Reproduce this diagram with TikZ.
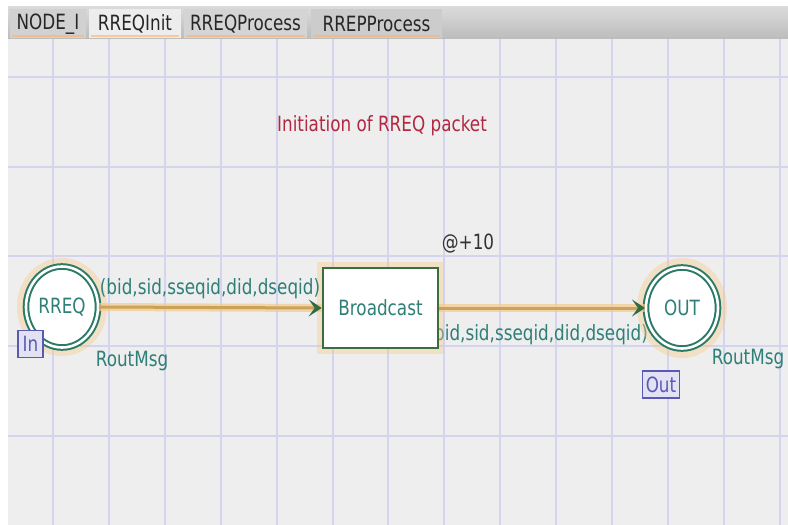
\documentclass[tikz,border=0pt]{standalone}
\usepackage{fontspec}
\setmainfont[FakeStretch=0.8]{DejaVu Sans}
\usetikzlibrary{arrows.meta,shapes.geometric}
\definecolor{bgc}{HTML}{EEEEEE}
\definecolor{gridc}{HTML}{D4D4EE}
\definecolor{tealtxt}{HTML}{2E7F78}
\definecolor{placeg}{HTML}{2A7A66}
\definecolor{transg}{HTML}{3B6E3E}
\definecolor{glowc}{HTML}{F6C98A}
\definecolor{arcc}{HTML}{C9A35C}
\definecolor{tipc}{HTML}{2F6B45}
\definecolor{titlec}{HTML}{B02842}
\definecolor{portc}{HTML}{5A5AB4}
\definecolor{portfill}{HTML}{E2E2F4}
\tikzset{
  txt/.style={font=\fontsize{21}{25}\selectfont, inner sep=0pt},
  lbl/.style={txt, text=tealtxt},
  place/.style={ellipse, draw=placeg, line width=2pt, double=white, double distance=2.6pt,
                fill=white, minimum width=72pt, minimum height=81pt, txt, text=tealtxt},
  trans/.style={rectangle, draw=transg, line width=2.6pt, fill=white,
                minimum width=115pt, minimum height=80pt, txt, text=tealtxt},
  glowline/.style={draw=glowc, line width=10pt, opacity=0.4},
  arcglow/.style={draw=glowc, line width=8pt, opacity=0.7},
  arcline/.style={draw=arcc, line width=3pt, -{Stealth[length=13pt,width=17pt,inset=6pt,color=tipc]}},
  port/.style={rectangle, draw=portc, line width=1.5pt, fill=portfill, txt, text=portc,
               minimum width=25pt, minimum height=27pt},
  tab/.style={txt, text=black!85},
  gridline/.style={draw=gridc, line width=1.6pt}
}
\begin{document}
\begin{tikzpicture}[x=1pt,y=-1pt]
\useasboundingbox (0,0) rectangle (788,525);
\fill[white] (0,0) rectangle (788,525);
\fill[bgc] (8,38) rectangle (788,525);
% grid
\foreach \gx in {53,109,165,221,277,333,388,444,500,556,612,668,724,780}
  \draw[gridline] (\gx,38) -- (\gx,525);
\foreach \gy in {77,167,256,346,436}
  \draw[gridline] (8,\gy) -- (788,\gy);
% top bar with tabs
\shade[top color=black!14, bottom color=black!26] (8,6) rectangle (788,38);
\fill[black!18] (10,9) rectangle (86,38);
\fill[black!7] (89,9) rectangle (181,38);
\fill[black!17] (184,9) rectangle (307,38);
\fill[black!20] (311,9) rectangle (442,38);
\foreach \ax/\bx in {12/84,91/179,186/305,313/440}
  \draw[draw=orange!60, line width=1.5pt, opacity=0.6] (\ax,36) -- (\bx,36);
\node[tab] (t1) at (48,24) {NODE\_I};
\node[tab] (t2) at (135,24) {RREQInit};
\node[tab] (t3) at (245.5,24) {RREQProcess};
\node[tab] (t4) at (376.5,24) {RREPProcess};
% title
\node[txt, text=titlec] (title) at (382,126) {Initiation of RREQ packet};
% label of second arc (partly hidden by the transition)
\node[lbl, anchor=east] (l2) at (648,335) {(bid,sid,sseqid,did,dseqid)};
% glows
\draw[glowline] (62,307) ellipse [x radius=40, y radius=44];
\draw[glowline] (682,308) ellipse [x radius=40, y radius=45];
\draw[glowline] (322,267) rectangle (439,349);
% nodes
\node[place] (rreq) at (62,307) {RREQ};
\node[place] (out) at (682,308) {OUT};
\node[trans] (bc) at (380.5,308) {Broadcast};
% arcs
\draw[arcglow] (rreq.east) -- (bc.west);
\draw[arcglow] (bc.east) -- (out.west);
\draw[arcline] (rreq.east) -- (bc.west);
\draw[arcline] (bc.east) -- (out.west);
% labels
\node[lbl] (l1) at (210,289) {(bid,sid,sseqid,did,dseqid)};
\node[lbl] (rm1) at (132,361) {RoutMsg};
\node[lbl] (rm2) at (748,359) {RoutMsg};
\node[txt, text=black!80] (delay) at (468,244) {@+10};
% ports
\node[port] (inp) at (30.5,344) {In};
\node[port, minimum width=37pt] (outp) at (661,384.5) {Out};
\end{tikzpicture}
\end{document}
